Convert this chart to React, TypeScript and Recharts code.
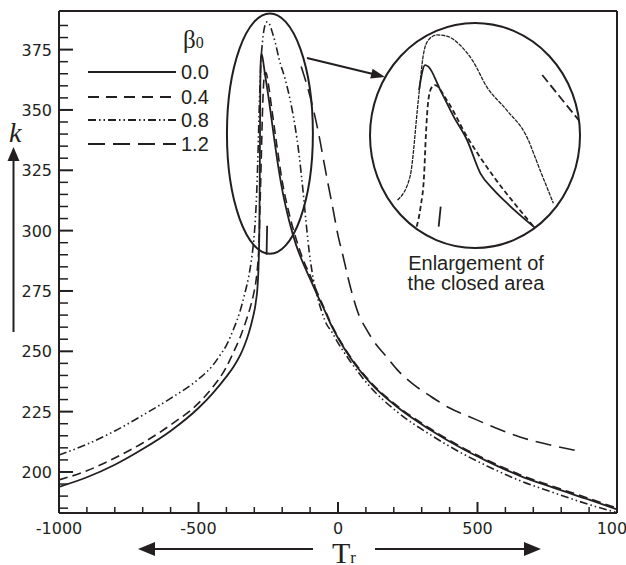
import React from 'react';
import { LineChart, Line, XAxis, YAxis, ReferenceLine, ReferenceArea } from 'recharts';

const INK = '#231f20';

// k vs Tr, one array per beta0 value  ([Tr, k])
const beta00: [number, number][] = [
  [-1000, 193.8], [-900, 197.8], [-800, 203], [-700, 209.5], [-600, 217], [-500, 226.5], [-450, 232.5],
  [-400, 239.5], [-375, 243.5], [-350, 248.5], [-335, 252.5], [-320, 257.5], [-305, 264], [-295, 270],
  [-288, 277.5], [-284, 288], [-282, 300], [-280.5, 320], [-279.5, 342], [-278.5, 360], [-277, 370],
  [-275, 373.5], [-271, 372], [-262, 365], [-250, 356], [-238, 346], [-220, 331], [-200, 317], [-175, 304],
  [-150, 294], [-125, 286.5], [-100, 280], [-75, 273.5], [-50, 267.5], [-25, 261], [0, 255.5], [43, 247.5],
  [115, 237], [211, 227], [330, 217.5], [448, 209.5], [534, 204.5], [650, 198.5], [771, 193.5], [900, 188.5],
  [1000, 184.5],
];

const beta04: [number, number][] = [
  [-1000, 196.7], [-900, 200.5], [-800, 205.8], [-700, 212], [-600, 219.5], [-500, 228.5], [-450, 235],
  [-400, 243.5], [-375, 249.5], [-350, 256], [-330, 262.5], [-315, 268], [-303, 273.5], [-293, 280],
  [-287, 287], [-283, 295], [-279.5, 310], [-275, 330], [-271, 348], [-267, 360], [-263, 365], [-258, 365.5],
  [-250, 361], [-238, 351], [-220, 336], [-200, 320.5], [-175, 307], [-150, 296.5], [-125, 288], [-100, 281.5],
  [-75, 274.5], [-50, 268], [-25, 261.5], [0, 256], [43, 248], [115, 237.5], [211, 227.5], [330, 218],
  [448, 210], [534, 205], [650, 199], [771, 194], [900, 189], [1000, 185],
];

const beta08: [number, number][] = [
  [-1000, 207], [-900, 211.5], [-800, 217], [-700, 223.5], [-600, 230.5], [-500, 238.5], [-450, 244],
  [-425, 248], [-400, 252.5], [-375, 259], [-350, 267], [-335, 273.5], [-320, 281], [-310, 288], [-302, 296],
  [-296, 305], [-290, 320], [-286, 335], [-282, 352], [-277, 368], [-270, 379], [-262, 385], [-254, 386.5],
  [-245, 385.5], [-235, 382], [-225, 378], [-211, 371], [-190, 363], [-175, 356], [-155, 344], [-139, 331],
  [-125, 316], [-114, 303], [-103, 291], [-93, 283], [-75, 273], [-57, 266], [-40, 261], [-25, 258.5],
  [0, 253.5], [43, 246], [115, 235.3], [211, 225], [330, 215.5], [448, 207.5], [534, 202.5], [650, 196.5],
  [771, 191.5], [900, 186.5], [1000, 183.2],
];

const beta12Stub: [number, number][] = [[-256, 290], [-254, 302]];
const beta12: [number, number][] = [
  [-132, 368], [-101, 356], [-80, 346], [-64, 337], [-53, 330], [-35, 319], [-18, 309], [0, 298],
  [18, 289.5], [36, 280.5], [54, 272.5], [75, 265], [100, 259.5], [125, 254.7], [172, 248], [211, 242.5],
  [268, 236.5], [330, 231.5], [400, 226.5], [473, 222.8], [560, 218.5], [652, 214.5], [750, 211.5], [849, 209],
];

// enlarged view of the ringed area (same units, zoomed window)
const inset00: [number, number][] = [
  [-326.1, 360.2], [-317.3, 371.3], [-312.4, 370.6], [-294.8, 360.2], [-275.3, 348.4], [-255.7, 338],
  [-236.1, 323.2], [-216.6, 315.8], [-197.1, 309.9], [-158, 299.5], [-150, 297.5],
];
const inset04: [number, number][] = [
  [-329.5, 299.5], [-323.7, 308.4], [-318.8, 321.7], [-315.9, 341], [-312.4, 355.8], [-307.5, 361.4],
  [-302.7, 362.4], [-285.5, 355.8], [-255.7, 339.5], [-216.6, 321.7], [-182.4, 308.4], [-158, 299.5], [-150, 296.5],
];
const inset08: [number, number][] = [
  [-357.7, 311.3], [-339.3, 321.7], [-327.1, 355.8], [-319.8, 375.8], [-312.4, 382.4], [-300.2, 384.7],
  [-285.5, 384.2], [-266, 380.2], [-246.5, 372.8], [-226.9, 361.7], [-197.5, 351.3], [-168.2, 339.5],
  [-148.7, 324.7], [-129.1, 309.9],
];
const inset12Stub: [number, number][] = [[-297.3, 299.5], [-294.3, 308.4]];
const inset12: [number, number][] = [[-145.4, 366.9], [-92.1, 346.9], [-80, 342]];

const xTicks = [-1000, -900, -800, -700, -600, -500, -400, -300, -200, -100, 0, 100, 200, 300, 400, 500, 600, 700, 800, 900, 1000];
const xLabelled = [-1000, -500, 0, 500, 1000];
const yTicks = [185, 190, 195, 200, 205, 210, 215, 220, 225, 230, 235, 240, 245, 250, 255, 260, 265, 270, 275, 280, 285,
  290, 295, 300, 305, 310, 315, 320, 325, 330, 335, 340, 345, 350, 355, 360, 365, 370, 375, 380, 385];
const yLabelled = [200, 225, 250, 275, 300, 325, 350, 375];

const series = [
  { name: '0.0', data: beta00, dash: undefined as string | undefined, legendDash: undefined as string | undefined },
  { name: '0.4', data: beta04, dash: '9 5', legendDash: '11 7' },
  { name: '0.8', data: beta08, dash: '8 3 1.5 3 1.5 3', legendDash: '8 3 1.5 3 1.5 3' },
  { name: '1.2', data: beta12, dash: '16 8', legendDash: '17 8' },
];

const rows = (pts: [number, number][]) => pts.map(([T, k]) => ({ T, k }));

const tickFont = { fontFamily: 'DejaVu Sans', fontSize: 16, fill: INK };

const XTick = (props: any) => {
  const { x, y, payload } = props;
  const major = xLabelled.includes(payload.value);
  return (
    <g>
      <line x1={x} x2={x} y1={y} y2={y - (major ? 11 : 6)} stroke={INK} strokeWidth={major ? 2 : 1.5} />
      {major && (
        <text x={x} y={y + 21} textAnchor="middle" {...tickFont}>{payload.value}</text>
      )}
    </g>
  );
};

const YTick = (props: any) => {
  const { x, y, payload } = props;
  const major = yLabelled.includes(payload.value);
  return (
    <g>
      <line x1={x} x2={x + (major ? 14 : 9)} y1={y} y2={y} stroke={INK} strokeWidth={major ? 2 : 1.5} />
      {major && (
        <text x={x - 7} y={y + 6} textAnchor="end" {...tickFont}>{payload.value}</text>
      )}
    </g>
  );
};

const EllipseShape = (props: any) => {
  const { x, y, width, height } = props;
  return (
    <ellipse cx={x + width / 2} cy={y + height / 2} rx={width / 2} ry={height / 2}
      fill="none" stroke={INK} strokeWidth={2} />
  );
};

export default function App() {
  const legendY = [72, 97, 120, 144];

  return (
    <div style={{ position: 'absolute', left: 0, top: 0, width: 626, height: 565, background: '#fff', overflow: 'hidden' }}>
      <LineChart width={626} height={565} margin={{ top: 11, right: 9, left: 0, bottom: 0 }}>
        <XAxis type="number" dataKey="T" domain={[-1000, 1000]} ticks={xTicks} interval={0} height={52}
          tickSize={0} tickMargin={0} tickLine={false} tick={<XTick />} allowDataOverflow
          axisLine={{ stroke: INK, strokeWidth: 2 }} />
        <YAxis type="number" dataKey="k" domain={[183, 391]} ticks={yTicks} interval={0} width={59}
          tickSize={0} tickMargin={0} tickLine={false} tick={<YTick />} allowDataOverflow
          axisLine={{ stroke: INK, strokeWidth: 2 }} />
        <ReferenceLine y={391} stroke={INK} strokeWidth={2} />
        <ReferenceLine x={1000} stroke={INK} strokeWidth={2} />
        <ReferenceArea x1={-398} x2={-90} y1={290.4} y2={390} shape={<EllipseShape />} />
        {series.map(s => (
          <Line key={s.name} data={rows(s.data)} dataKey="k" type="monotone" stroke={INK}
            strokeWidth={s.dash ? 1.6 : 1.8} strokeDasharray={s.dash} dot={false} activeDot={false}
            isAnimationActive={false} />
        ))}
        <Line data={rows(beta12Stub)} dataKey="k" type="linear" stroke={INK} strokeWidth={1.8}
          dot={false} activeDot={false} isAnimationActive={false} />
      </LineChart>

      {/* enlargement */}
      <div style={{ position: 'absolute', left: 370, top: 23, width: 210, height: 225,
        clipPath: 'ellipse(105px 112.5px at 105px 112.5px)' }}>
        <LineChart width={210} height={225} margin={{ top: 0, right: 0, left: 0, bottom: 0 }}>
          <XAxis type="number" dataKey="T" domain={[-398, -90]} hide allowDataOverflow />
          <YAxis type="number" dataKey="k" domain={[290, 390]} hide allowDataOverflow />
          <Line data={rows(inset08)} dataKey="k" type="monotone" stroke={INK} strokeWidth={1.3}
            strokeDasharray="4 1" dot={false} activeDot={false} isAnimationActive={false} />
          <Line data={rows(inset00)} dataKey="k" type="monotone" stroke={INK} strokeWidth={1.8}
            dot={false} activeDot={false} isAnimationActive={false} />
          <Line data={rows(inset04)} dataKey="k" type="monotone" stroke={INK} strokeWidth={1.8}
            strokeDasharray="5 3" dot={false} activeDot={false} isAnimationActive={false} />
          <Line data={rows(inset12Stub)} dataKey="k" type="linear" stroke={INK} strokeWidth={1.8}
            dot={false} activeDot={false} isAnimationActive={false} />
          <Line data={rows(inset12)} dataKey="k" type="linear" stroke={INK} strokeWidth={1.8}
            strokeDasharray="9 4" dot={false} activeDot={false} isAnimationActive={false} />
        </LineChart>
      </div>

      <svg width={626} height={565} style={{ position: 'absolute', left: 0, top: 0, pointerEvents: 'none' }}>
        {/* legend */}
        <text x={183} y={48} fontFamily="Liberation Serif" fontSize={25} fill={INK}>
          β<tspan fontSize={16}>0</tspan>
        </text>
        {series.map((s, i) => (
          <g key={s.name}>
            <line x1={88} x2={176} y1={legendY[i]} y2={legendY[i]} stroke={INK} strokeWidth={1.8}
              strokeDasharray={s.legendDash} />
            <text x={181} y={legendY[i] + 7} fontFamily="Liberation Sans" fontSize={20} fill={INK}>{s.name}</text>
          </g>
        ))}

        {/* ellipse -> enlargement */}
        <ellipse cx={475} cy={135.5} rx={105} ry={112.5} fill="none" stroke={INK} strokeWidth={2} />
        <line x1={307} y1={58} x2={373} y2={74} stroke={INK} strokeWidth={2} />
        <polygon points="385,77 370.2,78.6 372.6,68.8" fill={INK} />
        <text x={476} y={270} textAnchor="middle" fontFamily="Liberation Sans" fontSize={20} fill={INK}>Enlargement of</text>
        <text x={476} y={290} textAnchor="middle" fontFamily="Liberation Sans" fontSize={20} fill={INK}>the closed area</text>

        {/* k axis title */}
        <text x={9} y={142} fontFamily="Liberation Serif" fontStyle="italic" fontSize={28} fill={INK}>k</text>
        <line x1={13.5} x2={13.5} y1={332} y2={158} stroke={INK} strokeWidth={2} />
        <polygon points="13.5,147 7.5,161 19.5,161" fill={INK} />

        {/* Tr axis title */}
        <text x={332} y={563} fontFamily="Liberation Serif" fontSize={30} fill={INK}>
          T<tspan fontSize={17}>r</tspan>
        </text>
        <line x1={313} x2={152} y1={549} y2={549} stroke={INK} strokeWidth={2} />
        <polygon points="138,549 155,542 155,556" fill={INK} />
        <line x1={375} x2={526} y1={549} y2={549} stroke={INK} strokeWidth={2} />
        <polygon points="541,549 524,542 524,556" fill={INK} />
      </svg>
    </div>
  );
}
